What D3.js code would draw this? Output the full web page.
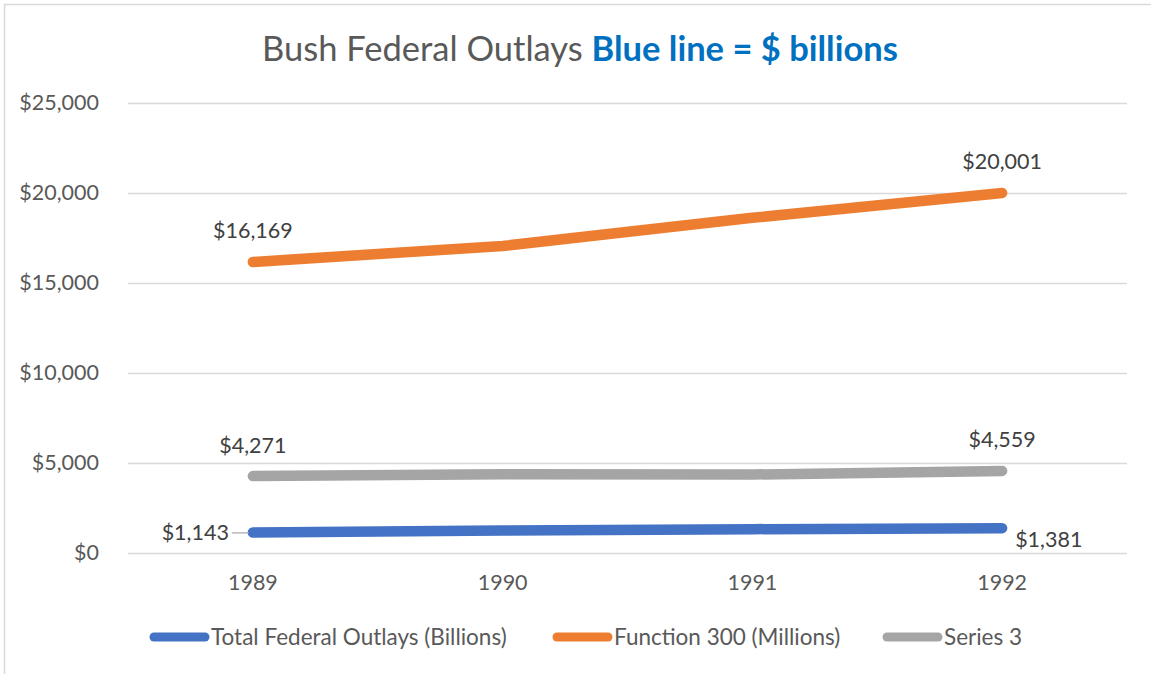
<!DOCTYPE html>
<html>
<head>
<meta charset="utf-8">
<script src="https://cdn.jsdelivr.net/npm/d3@7"></script>
<style>
  html, body { margin: 0; padding: 0; background: #fff; }
  svg { display: block; font-family: Lato, "Open Sans", sans-serif; }
</style>
</head>
<body>
<svg id="chart" width="1151" height="674"></svg>
<script>
// Fiscal years shown on the category axis
const years = ["1989", "1990", "1991", "1992"];

// Series values
const totalOutlays = [1143, 1253, 1324, 1381];      // $ billions
const function300 = [16169, 17055, 18620, 20001];   // $ millions
const series3 = [4271, 4380, 4360, 4559];

// Value axis ticks
const yTicks = [0, 5000, 10000, 15000, 20000, 25000];

const seriesNames = ["Total Federal Outlays (Billions)", "Function 300 (Millions)", "Series 3"];
const seriesColors = ["#4472c4", "#ed7d31", "#a5a5a5"];

const svg = d3.select("#chart");
const W = 1151, H = 674;
const FONT = "Lato, 'Open Sans', sans-serif";

// chart area frame
svg.append("rect")
  .attr("x", 4.5).attr("y", 4.5)
  .attr("width", W + 20).attr("height", H + 20)
  .attr("fill", "#fff").attr("stroke", "#d9d9d9").attr("stroke-width", 1.5);

const plot = { left: 128, right: 1127, top: 103, bottom: 553 };

const x = d3.scaleBand().domain(years).range([plot.left, plot.right]);
const xc = d => x(d) + x.bandwidth() / 2;
const y = d3.scaleLinear().domain([0, 25000]).range([plot.bottom, plot.top]);
const money = d3.format("$,");

// Title
const title = svg.append("text")
  .attr("x", 580).attr("y", 61)
  .attr("text-anchor", "middle")
  .attr("font-size", 34.5);
title.append("tspan").attr("fill", "#595959").text("Bush Federal Outlays ");
title.append("tspan").attr("fill", "#0070c0").attr("font-weight", "bold").text("Blue line = $ billions");

// Gridlines and value labels
const yAxis = d3.axisLeft(y).tickValues(yTicks).tickSize(-(plot.right - plot.left))
  .tickPadding(29).tickFormat(money);
const gy = svg.append("g").attr("transform", `translate(${plot.left},0)`).call(yAxis);
gy.select(".domain").remove();
gy.selectAll(".tick line").attr("stroke", "#d9d9d9").attr("stroke-width", 1.5);
gy.selectAll(".tick text").attr("fill", "#595959").attr("font-size", 21.5)
  .attr("font-family", FONT);

// Category labels
const xAxis = d3.axisBottom(x).tickSize(0).tickPadding(22);
const gx = svg.append("g").attr("transform", `translate(0,${plot.bottom})`).call(xAxis);
gx.select(".domain").remove();
gx.selectAll(".tick text").attr("fill", "#595959").attr("font-size", 21.5)
  .attr("font-family", FONT);

// Lines
const line = d3.line().x((d, i) => xc(years[i])).y(d => y(d));
const allSeries = [totalOutlays, function300, series3];
const drawOrder = [2, 1, 0];
drawOrder.forEach(k => {
  svg.append("path")
    .datum(allSeries[k])
    .attr("d", line)
    .attr("fill", "none")
    .attr("stroke", seriesColors[k])
    .attr("stroke-width", 10.5)
    .attr("stroke-linecap", "round")
    .attr("stroke-linejoin", "round");
});

// Data labels at the first and last year
const labelColor = "#404040";
const first = years[0], last = years[years.length - 1];
function label(txt, px, py, anchor) {
  svg.append("text").attr("x", px).attr("y", py).attr("text-anchor", anchor)
    .attr("fill", labelColor).attr("font-size", 21.5).text(txt);
}
label(money(function300[0]), xc(first), y(function300[0]) - 24, "middle");
label(money(function300[3]), xc(last), y(function300[3]) - 24, "middle");
label(money(series3[0]), xc(first), y(series3[0]) - 23, "middle");
label(money(series3[3]), xc(last), y(series3[3]) - 24, "middle");
label(money(totalOutlays[0]), xc(first) - 24, y(totalOutlays[0]) + 8, "end");
label(money(totalOutlays[3]), xc(last) + 13, y(totalOutlays[3]) + 19, "start");
// leader line for the first blue label
svg.append("line")
  .attr("x1", xc(first) - 21).attr("x2", xc(first) - 4)
  .attr("y1", y(totalOutlays[0]) + 0.5).attr("y2", y(totalOutlays[0]) + 0.5)
  .attr("stroke", "#a6a6a6").attr("stroke-width", 1.2);

// Legend
const legendX = [150, 553, 883];
seriesNames.forEach((name, i) => {
  const g = svg.append("g").attr("transform", `translate(${legendX[i]},637)`);
  g.append("line").attr("x1", 4).attr("x2", 55).attr("y1", 0).attr("y2", 0)
    .attr("stroke", seriesColors[i]).attr("stroke-width", 9).attr("stroke-linecap", "round");
  g.append("text").attr("x", 61).attr("y", 8).attr("fill", "#595959")
    .attr("font-size", 22.5).text(name);
});
</script>
</body>
</html>
